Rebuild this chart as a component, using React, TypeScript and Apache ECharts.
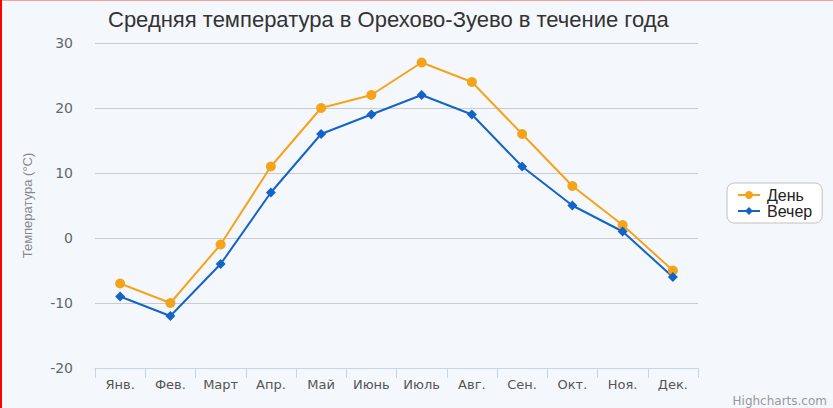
import React, { useEffect, useRef } from "react";
import * as echarts from "echarts";

const months = ["Янв.", "Фев.", "Март", "Апр.", "Май", "Июнь", "Июль", "Авг.", "Сен.", "Окт.", "Ноя.", "Дек."];
const dayTemps = [-7, -10, -1, 11, 20, 22, 27, 24, 16, 8, 2, -5];
const eveningTemps = [-9, -12, -4, 7, 16, 19, 22, 19, 11, 5, 1, -6];
const titleText = "Средняя температура в Орехово-Зуево в течение года";
const yAxisTitle = "Температура (°C)";
const creditsText = "Highcharts.com";

export default function App() {
  const ref = useRef<HTMLDivElement>(null);
  useEffect(() => {
    const chart = echarts.init(ref.current!, null, { renderer: "svg" });
    chart.setOption({
      animation: false,
      backgroundColor: "#f4f8fc",
      title: {
        text: titleText,
        left: 103,
        top: 3,
        textStyle: { fontFamily: "Liberation Sans, Arial", fontSize: 22, fontWeight: "normal", color: "#333" },
      },
      grid: { left: 95, right: 135, top: 43, bottom: 40 },
      xAxis: {
        type: "category",
        data: months,
        boundaryGap: true,
        axisLine: { onZero: false, lineStyle: { color: "#c6d4e3", width: 1 } },
        axisTick: { show: true, length: 10, alignWithLabel: false, interval: 0, lineStyle: { color: "#c6d4e3" } },
        axisLabel: { interval: 0, color: "#555", fontFamily: "DejaVu Sans", fontSize: 13, margin: 10 },
        splitLine: { show: false },
      },
      yAxis: {
        type: "value",
        min: -20,
        max: 30,
        interval: 10,
        name: yAxisTitle,
        nameLocation: "middle",
        nameGap: 61,
        nameTextStyle: { color: "#888", fontFamily: "Liberation Sans Narrow, Liberation Sans", fontSize: 13 },
        axisLine: { show: false },
        axisTick: { show: false },
        axisLabel: { color: "#666", fontFamily: "DejaVu Sans", fontSize: 14, margin: 22 },
        splitLine: { lineStyle: { color: "#c8ccd0", width: 1 } },
      },
      legend: {
        orient: "vertical",
        left: 727,
        top: 183,
        backgroundColor: "#ffffff",
        borderColor: "#c0c0c0",
        borderWidth: 1,
        borderRadius: 7,
        padding: [4, 10, 4, 10],
        itemGap: 0,
        itemWidth: 22,
        itemHeight: 10,
        textStyle: { color: "#222", fontFamily: "Liberation Sans, Arial", fontSize: 16, padding: [0, 0, 0, 2] },
        data: ["День", "Вечер"],
      },
      series: [
        {
          name: "День",
          type: "line",
          data: dayTemps,
          symbol: "circle",
          symbolSize: 10,
          itemStyle: { color: "#f5a31a" },
          lineStyle: { color: "#f5a31a", width: 2 },
        },
        {
          name: "Вечер",
          type: "line",
          data: eveningTemps,
          symbol: "diamond",
          symbolSize: 10,
          itemStyle: { color: "#1464c8" },
          lineStyle: { color: "#1464c8", width: 2 },
        },
      ],
      graphic: [
        { type: "rect", left: 0, top: 0, shape: { width: 833, height: 1 }, style: { fill: "#f4a0a0" } },
        { type: "rect", left: 0, top: 0, shape: { width: 2, height: 408 }, style: { fill: "#ff0000" } },
        {
          type: "text",
          right: 6,
          bottom: 1,
          style: { text: creditsText, fill: "#999", font: "12px DejaVu Sans" },
        },
      ],
    });
    return () => chart.dispose();
  }, []);
  return <div ref={ref} style={{ width: 833, height: 408, position: "absolute", left: 0, top: 0 }} />;
}
